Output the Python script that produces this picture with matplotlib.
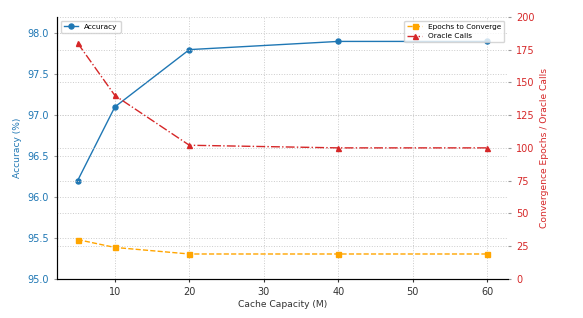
import matplotlib
matplotlib.use("Agg")
import matplotlib.pyplot as plt

# data
cache_capacity = [5, 10, 20, 40, 60]
accuracy = [96.2, 97.1, 97.8, 97.9, 97.9]
epochs_to_converge = [30, 24, 19, 19, 19]
oracle_calls = [180, 140, 102, 100, 100]

blue = "#1f77b4"
red = "#d62728"
orange = "orange"

fig, ax1 = plt.subplots(figsize=(5.83, 3.18), dpi=100)
fig.subplots_adjust(left=0.098, right=0.871, bottom=0.123, top=0.947)

ax1.plot(cache_capacity, accuracy, "-o", color=blue, markersize=3.6, linewidth=1.0, label="Accuracy")
ax1.set_xlabel("Cache Capacity (M)", color="#333333", fontsize=6.6, labelpad=2)
ax1.set_ylabel("Accuracy (%)", color=blue, fontsize=6.6)
ax1.tick_params(axis="y", colors=blue, labelsize=7, length=2.5)
ax1.tick_params(axis="x", colors="#333333", labelsize=7, length=2.5)
ax1.tick_params(axis="y", color="#999999")
ax1.set_ylim(95.0, 98.2)
ax1.grid(True, linestyle=":", color="#cccccc", linewidth=0.7)

ax2 = ax1.twinx()
ax2.plot(cache_capacity, epochs_to_converge, "--s", color=orange, markersize=3.6, linewidth=1.0, label="Epochs to Converge")
ax2.plot(cache_capacity, oracle_calls, "-.^", color=red, markersize=3.6, linewidth=1.0, label="Oracle Calls")
ax2.set_ylabel("Convergence Epochs / Oracle Calls", color=red, fontsize=6.6)
ax2.tick_params(axis="y", colors=red, labelsize=7, length=2.5)
ax2.tick_params(axis="y", color="#999999")
ax2.set_ylim(0, 200)
ax2.grid(True, linestyle=":", color="#cccccc", linewidth=0.7)

for ax in (ax1, ax2):
    ax.spines["top"].set_visible(False)
    ax.spines["right"].set_visible(False)
ax1.spines["left"].set_color("#333333")
ax1.spines["bottom"].set_color("#333333")

ax1.legend(loc="upper left", fontsize=5.3)
ax2.legend(loc="upper right", fontsize=5.3)

fig.savefig("out.png")
